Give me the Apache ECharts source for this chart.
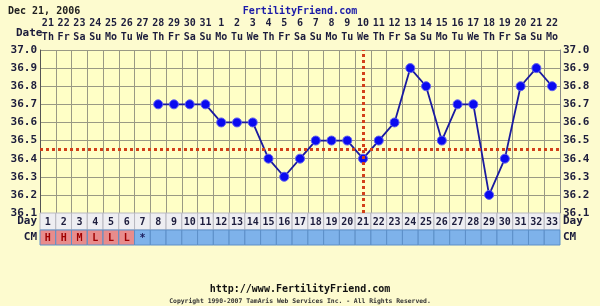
<!DOCTYPE html>
<html><head><meta charset="utf-8">
<script src="https://cdn.jsdelivr.net/npm/echarts@6/dist/echarts.min.js"></script>
<style>html,body{margin:0;padding:0;background:#fdfbcf}#c{width:600px;height:306px}</style>
</head><body><div id="c"></div>
<script>
const dates = ['21','22','23','24','25','26','27','28','29','30','31','1','2','3','4','5','6','7','8','9','10','11','12','13','14','15','16','17','18','19','20','21','22'];
const weekdays = ['Th','Fr','Sa','Su','Mo','Tu','We','Th','Fr','Sa','Su','Mo','Tu','We','Th','Fr','Sa','Su','Mo','Tu','We','Th','Fr','Sa','Su','Mo','Tu','We','Th','Fr','Sa','Su','Mo'];
const cycleDays = ['1','2','3','4','5','6','7','8','9','10','11','12','13','14','15','16','17','18','19','20','21','22','23','24','25','26','27','28','29','30','31','32','33'];
const temps = [null,null,null,null,null,null,null,36.7,36.7,36.7,36.7,36.6,36.6,36.6,36.4,36.3,36.4,36.5,36.5,36.5,36.4,36.5,36.6,36.9,36.8,36.5,36.7,36.7,36.2,36.4,36.8,36.9,36.8];
const cmFlags = ['H','H','M','L','L','L','*','','','','','','','','','','','','','','','','','','','','','','','','','',''];
const coverline = 36.45;
const ovulationDay = '21';
const tempTicks = {min: 36.1, max: 37.0, step: 0.1};

const mono = '"DejaVu Sans Mono", monospace';
const txt = '#1c1c3c';
const gridCol = '#9a9a84';
const G = {left: 40, right: 40};

const chart = echarts.init(document.getElementById('c'));

function cellSeries(gridIdx, labels, fillFn, textFn, textColFn) {
  return {
    type: 'custom', xAxisIndex: gridIdx, yAxisIndex: gridIdx === 1 ? 2 : 4,
    data: labels.map((l, i) => [i, 0]),
    renderItem: function (params, api) {
      const i = api.value(0);
      const c = api.coord([i, 0]);
      const s = api.size([1, 1]);
      return {
        type: 'group', children: [
          {type: 'rect', shape: {x: c[0] - s[0] / 2, y: c[1] - s[1] / 2, width: s[0], height: s[1]},
           style: {fill: fillFn(i), stroke: gridIdx === 1 ? '#b8b8c0' : '#5c8fc8', lineWidth: 1}},
          {type: 'text', style: {text: textFn(i), x: c[0], y: c[1] + 1, align: 'center', verticalAlign: 'middle',
           font: 'bold 10px ' + mono, fill: textColFn(i)}}
        ]
      };
    }
  };
}

const isFlow = f => f === 'H' || f === 'M' || f === 'L';
const topLabels = dates.map((d, i) => d + '\n' + weekdays[i]);

chart.setOption({
  backgroundColor: '#fdfbcf',
  animation: false,
  title: [
    {text: 'Dec 21, 2006', left: 3, top: 1, textStyle: {fontFamily: mono, fontSize: 10, fontWeight: 'bold', color: '#202020'}},
    {text: 'FertilityFriend.com', left: 'center', top: 1, textStyle: {fontFamily: mono, fontSize: 10, fontWeight: 'bold', color: '#1a1aa8'}},
    {text: 'Date', left: 11, top: 23, textStyle: {fontFamily: mono, fontSize: 11, fontWeight: 'bold', color: txt}},
    {text: 'http://www.FertilityFriend.com', left: 'center', top: 279, textStyle: {fontFamily: mono, fontSize: 10, fontWeight: 'bold', color: '#111'}},
    {text: 'Copyright 1990-2007 TamAris Web Services Inc. - All Rights Reserved.', left: 'center', top: 293, textStyle: {fontFamily: mono, fontSize: 6.4, color: '#333'}}
  ],
  grid: [
    {left: G.left, right: G.right, top: 50, height: 163, backgroundColor: '#ffffc6', show: true, borderWidth: 0},
    {left: G.left, right: G.right, top: 213, height: 17},
    {left: G.left, right: G.right, top: 230, height: 15}
  ],
  xAxis: [
    {type: 'category', gridIndex: 0, position: 'top', data: topLabels,
     boundaryGap: true, axisTick: {show: false}, axisLine: {show: false},
     axisLabel: {interval: 0, margin: 6, fontFamily: mono, fontSize: 10, fontWeight: 'bold', color: txt, lineHeight: 14},
     splitLine: {show: true, interval: 0, lineStyle: {color: gridCol, width: 1}}},
    {type: 'category', gridIndex: 1, data: cycleDays, show: false},
    {type: 'category', gridIndex: 2, data: cycleDays, show: false}
  ],
  yAxis: [
    {type: 'value', gridIndex: 0, min: tempTicks.min, max: tempTicks.max, interval: tempTicks.step,
     axisLine: {show: true, lineStyle: {color: '#555'}}, axisTick: {show: false},
     axisLabel: {formatter: v => v.toFixed(1), fontFamily: mono, fontSize: 11, fontWeight: 'bold', color: txt, margin: 3},
     splitLine: {show: true, lineStyle: {color: gridCol, width: 1}}},
    {type: 'value', gridIndex: 0, position: 'right', min: tempTicks.min, max: tempTicks.max, interval: tempTicks.step,
     axisLine: {show: true, lineStyle: {color: '#888'}}, axisTick: {show: false},
     axisLabel: {formatter: v => v.toFixed(1), fontFamily: mono, fontSize: 11, fontWeight: 'bold', color: txt, margin: 3},
     splitLine: {show: false}},
    {type: 'category', gridIndex: 1, data: ['Day'], axisLine: {show: false}, axisTick: {show: false},
     axisLabel: {fontFamily: mono, fontSize: 11, fontWeight: 'bold', color: txt, margin: 3}},
    {type: 'category', gridIndex: 1, position: 'right', data: ['Day'], axisLine: {show: false}, axisTick: {show: false},
     axisLabel: {fontFamily: mono, fontSize: 11, fontWeight: 'bold', color: txt, margin: 3}},
    {type: 'category', gridIndex: 2, data: ['CM'], axisLine: {show: false}, axisTick: {show: false},
     axisLabel: {fontFamily: mono, fontSize: 11, fontWeight: 'bold', color: txt, margin: 3}},
    {type: 'category', gridIndex: 2, position: 'right', data: ['CM'], axisLine: {show: false}, axisTick: {show: false},
     axisLabel: {fontFamily: mono, fontSize: 11, fontWeight: 'bold', color: txt, margin: 3}}
  ],
  series: [
    {type: 'line', xAxisIndex: 0, yAxisIndex: 0, data: temps, connectNulls: false,
     symbol: 'circle', symbolSize: 9,
     lineStyle: {color: '#1a1aa0', width: 1.8},
     itemStyle: {color: '#0a0af0', borderColor: '#6060f0', borderWidth: 1},
     markLine: {silent: true, symbol: 'none', label: {show: false},
       lineStyle: {color: '#d2401a', width: 3, type: [3, 3]},
       data: [{yAxis: coverline}, {xAxis: topLabels[cycleDays.indexOf(ovulationDay)]}]}
    },
    cellSeries(1, cycleDays, i => '#eeeef2', i => cycleDays[i], i => txt),
    cellSeries(2, cycleDays, i => isFlow(cmFlags[i]) ? '#e88c8c' : '#7eb2ea', i => cmFlags[i], i => isFlow(cmFlags[i]) ? '#a00000' : '#1c1c5c')
  ]
});
</script></body></html>
